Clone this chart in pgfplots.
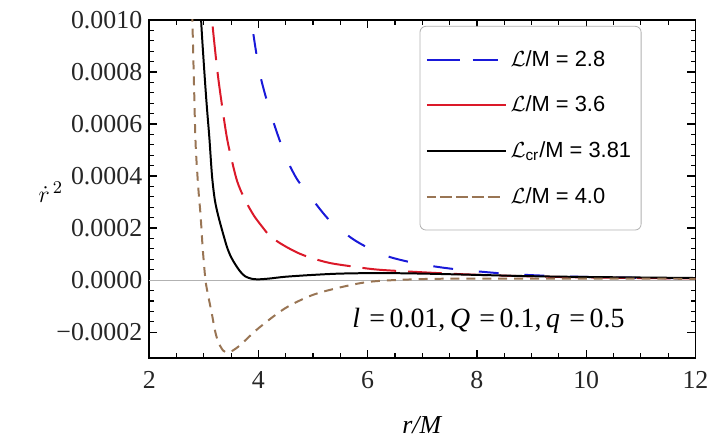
\documentclass[border=0pt]{standalone}
\usepackage{fontspec}
\setmainfont{Liberation Serif}
\newfontfamily\legendfont{Liberation Sans}
\usepackage{pgfplots}
\pgfplotsset{compat=1.18}

\definecolor{mblue}{rgb}{0.1,0.1,0.85}
\definecolor{mred}{rgb}{0.86,0.1,0.16}
\definecolor{mbrown}{rgb}{0.6,0.46,0.33}

\begin{document}
\begin{tikzpicture}
\begin{axis}[
    scale only axis,
    width=274.5pt, height=170pt,
    xmin=2, xmax=12,
    ymin=-0.0003, ymax=0.001,
    xtick={2,4,...,12},
    minor x tick num=3,
    ytick={-0.0002,0,0.0002,0.0004,0.0006,0.0008,0.001},
    yticklabels={−0.0002,0.0000,0.0002,0.0004,0.0006,0.0008,0.0010},
    scaled y ticks=false,
    minor y tick num=4,
    /pgf/number format/assume math mode=true,
    tick align=inside,
    major tick length=4pt,
    minor tick length=2.4pt,
    every tick/.style={black, line width=0.6pt},
    axis line style={line width=0.8pt},
    ticklabel style={font=\fontsize{13}{15}\selectfont, text=black!85},
    xticklabel style={yshift=-3pt},
    xlabel={\textit{r/M}},
    xlabel style={font=\fontsize{13}{15}\selectfont, yshift=-7pt},
    ylabel={$\dot{r}^{\,2}$},
    ylabel style={rotate=-90, at={(axis description cs:-0.18,0.49)}, anchor=center, font=\fontsize{13}{15}\selectfont},
    legend style={at={(axis description cs:0.495,0.994)}, anchor=north west, yshift=-2pt,
        draw=gray!60, rounded corners=3pt, fill=white,
        font=\legendfont\fontsize{11}{13}\selectfont,
        inner xsep=3pt, inner ysep=10pt, row sep=9.5pt},
    legend cell align=left,
    legend image code/.code={\path (0pt,0pt) -- (39.5pt,0pt); \draw[#1] (6.5pt,0pt) -- (35.5pt,0pt);},
]
\addplot[gray!60, line width=0.4pt, forget plot] coordinates {(2,0) (12,0)};

\addplot[mblue, line width=1pt, dash pattern=on 10pt off 13pt, smooth] coordinates {
(3.82,0.00112) (3.87,0.00100) (4.03,0.00079) (4.25,0.000623) (4.49,0.00048)
(4.70,0.00039) (4.97,0.000315) (5.30,0.00023) (5.70,0.000162) (6.00,0.000125)
(6.37,0.000091) (6.80,0.000068) (7.22,0.0000526) (7.60,0.000042) (8.04,0.000033)
(8.50,0.000025) (9.00,0.000019) (9.65,0.000014) (10.5,0.000010) (11.3,0.000008)
(12.0,0.000006)};
\addlegendentry{$\mathcal{L}$/M = 2.8}

\addplot[mred, line width=1pt, dash pattern=on 17pt off 6pt, smooth] coordinates {
(3.10,0.00115) (3.15,0.00100) (3.25,0.00080) (3.34,0.00066) (3.42,0.00055)
(3.49,0.00048) (3.61,0.00038) (3.75,0.00031) (3.91,0.00025) (4.05,0.00021)
(4.19,0.000174) (4.35,0.000148) (4.55,0.000123) (4.75,0.000102) (4.97,0.000085)
(5.30,0.000066) (5.70,0.000053) (6.20,0.000040) (7.10,0.000029) (7.80,0.000022)
(8.50,0.000017) (9.50,0.000012) (10.5,0.000009) (12.0,0.000006)};
\addlegendentry{$\mathcal{L}$/M = 3.6}

\addplot[black, line width=1pt, smooth] coordinates {
(2.90,0.00125) (2.95,0.00100) (3.00,0.00083) (3.05,0.00068) (3.10,0.00055)
(3.15,0.00040) (3.20,0.00031) (3.26,0.00025) (3.35,0.00018) (3.43,0.000123)
(3.50,0.000088) (3.58,0.000059) (3.67,0.000032) (3.76,0.000014) (3.88,0.000005)
(4.00,0.000003) (4.20,0.000006) (4.50,0.000013) (5.00,0.000020) (5.50,0.000025)
(6.20,0.000027) (7.00,0.000025) (8.00,0.000020) (9.00,0.000015) (10.0,0.000012)
(11.0,0.000010) (12.0,0.000008)};
\addlegendentry{$\mathcal{L}$\textsubscript{cr}/M = 3.81}

\addplot[mbrown, line width=1pt, dash pattern=on 4.5pt off 3.5pt, smooth] coordinates {
(2.77,0.00115) (2.79,0.00100) (2.82,0.00075) (2.85,0.00052) (2.90,0.00035)
(2.94,0.00025) (2.98,0.00012) (3.03,0.0) (3.08,-0.00006) (3.15,-0.000133)
(3.20,-0.00019) (3.26,-0.000236) (3.35,-0.00027) (3.43,-0.000278) (3.52,-0.000272)
(3.67,-0.000249) (4.00,-0.000185) (4.49,-0.000108) (5.00,-0.0000565) (5.58,-0.000024)
(6.10,-0.000005) (7.00,0.000004) (8.00,0.000006) (9.00,0.000006) (10.0,0.000006)
(12.0,0.000005)};
\addlegendentry{$\mathcal{L}$/M = 4.0}

\node[font=\fontsize{14}{16}\selectfont] at (axis description cs:0.621,0.11)
    {\textit{l}\,\,=\,0.01,\,\textit{Q}\,\,=\,0.1,\,\textit{q}\,\,=\,0.5};

\coordinate (bbsw) at (axis description cs:-0.2732,-0.2176);
\coordinate (bbne) at (axis description cs:1.0291,1.0588);
\end{axis}
\path (bbsw) rectangle (bbne);
\end{tikzpicture}
\end{document}
